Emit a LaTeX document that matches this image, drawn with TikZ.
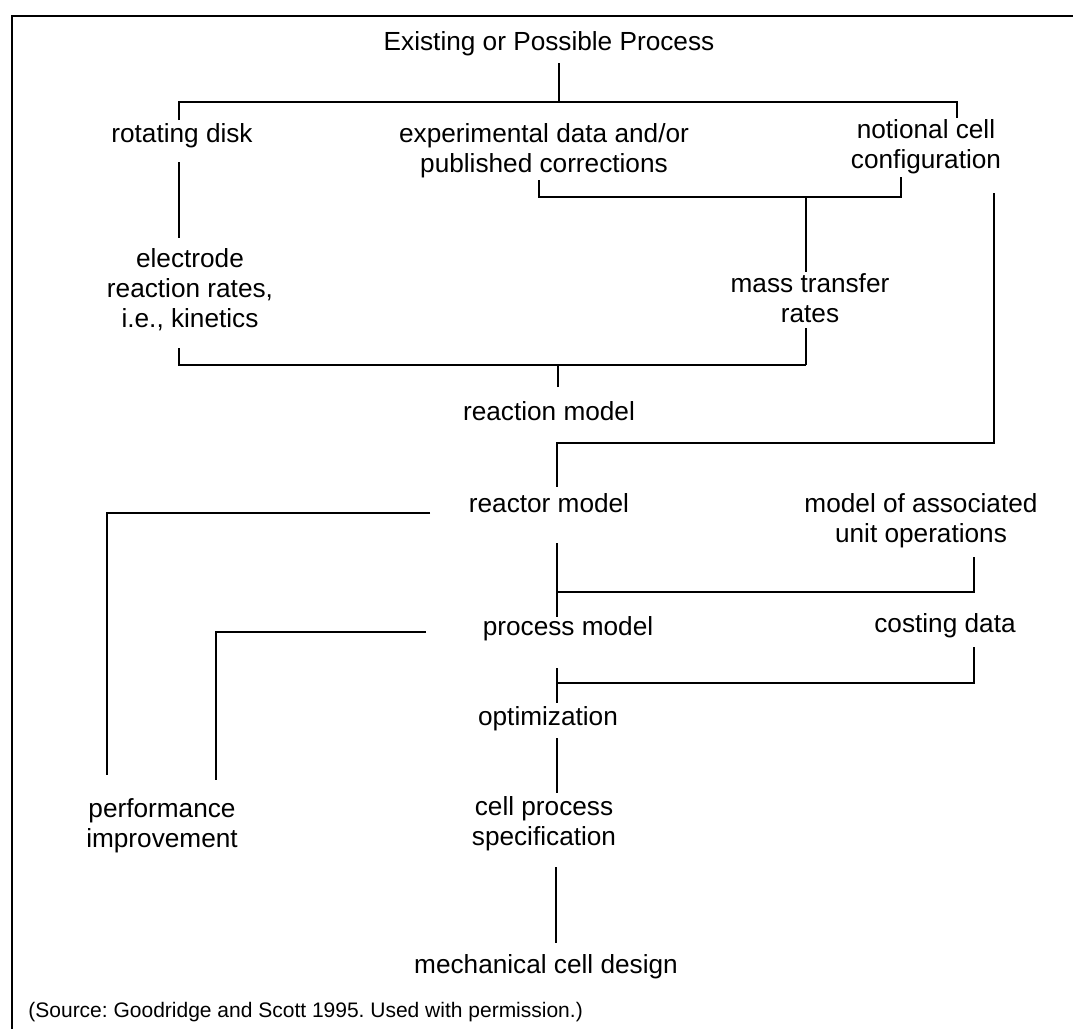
\documentclass[tikz,border=0pt]{standalone}
\usepackage{fontspec}
\setmainfont{Liberation Sans}
\frenchspacing

\begin{document}
\begin{tikzpicture}[x=0.5pt,y=-0.5pt,
    lbl/.style={anchor=base,align=center,inner sep=0pt,
      font=\fontsize{13.1}{15}\selectfont},
    link/.style={line width=1.2pt}]
      \useasboundingbox (0,0) rectangle (1073,1029);
      % frame
      \draw[line width=1.3pt] (1073,16) -- (12,16) -- (12,1029);
      % labels (multi-line ones sit on their last baseline)
      \node[lbl] (top) at (549,50) {Existing or Possible Process};
      \node[lbl] (disk) at (182,142) {rotating disk};
      \node[lbl] (expdata) at (544,172) {experimental data and/or\\published corrections};
      \node[lbl] (notional) at (926,168) {notional cell\\configuration};
      \node[lbl] (kinetics) at (190,327) {electrode\\reaction rates,\\i.e., kinetics};
      \node[lbl] (masstr) at (810,322) {mass transfer\\rates};
      \node[lbl] (reaction) at (549,420) {reaction model};
      \node[lbl] (reactor) at (549,512) {reactor model};
      \node[lbl] (unitops) at (921,542) {model of associated\\unit operations};
      \node[lbl] (procmod) at (568,635) {process model};
      \node[lbl] (costing) at (945,632) {costing data};
      \node[lbl] (optim) at (548,725) {optimization};
      \node[lbl] (spec) at (544,845) {cell process\\specification};
      \node[lbl] (perf) at (162,847) {performance\\improvement};
      \node[lbl] (mech) at (546,973) {mechanical cell design};
      \node[anchor=base west,inner sep=0pt,font=\fontsize{10.5}{12}\selectfont] (src) at (28,1017)
        {(Source: Goodridge and Scott 1995. Used with permission.)};
      % connector ends
      \coordinate (top-s) at (559,63);
      \coordinate (bar1-l) at (179,102);
      \coordinate (bar1-r) at (957,102);
      \coordinate (disk-n) at (179,120);
      \coordinate (notional-n) at (957,118);
      \coordinate (disk-s) at (179,162);
      \coordinate (kinetics-n) at (179,238);
      \coordinate (expdata-s) at (539,180);
      \coordinate (notional-s) at (901,177);
      \coordinate (bar2) at (806,197);
      \coordinate (masstr-n) at (806,272);
      \coordinate (masstr-s) at (806,328);
      \coordinate (kinetics-s) at (179,348);
      \coordinate (bar3) at (806,365);
      \coordinate (reaction-n) at (558,387);
      \coordinate (notional-e) at (994,193);
      \coordinate (bar4) at (994,443);
      \coordinate (reactor-n) at (557,487);
      \coordinate (reactor-s) at (557,543);
      \coordinate (procmod-n) at (557,617);
      \coordinate (unitops-s) at (974,557);
      \coordinate (bar5) at (557,592);
      \coordinate (procmod-s) at (557,668);
      \coordinate (optim-n) at (557,703);
      \coordinate (costing-s) at (974,647);
      \coordinate (bar6) at (557,683);
      \coordinate (optim-s) at (557,738);
      \coordinate (spec-n) at (557,793);
      \coordinate (spec-s) at (556,867);
      \coordinate (mech-n) at (556,943);
      \coordinate (reactor-w) at (430,513);
      \coordinate (perf-n1) at (107,775);
      \coordinate (procmod-w) at (426,632);
      \coordinate (perf-n2) at (216,780);
      % connectors
      \draw[link] (top-s) -- (top-s |- bar1-l);
      \draw[link] (disk-n) -- (bar1-l) -- (bar1-r) -- (notional-n);
      \draw[link] (disk-s) -- (kinetics-n);
      \draw[link] (expdata-s) -- (expdata-s |- bar2) -| (notional-s);
      \draw[link] (bar2) -- (masstr-n);
      \draw[link] (masstr-s) -- (bar3);
      \draw[link] (kinetics-s) |- (bar3);
      \draw[link] (reaction-n) -- (reaction-n |- bar3);
      \draw[link] (notional-e) -- (bar4) -| (reactor-n);
      \draw[link] (reactor-s) -- (procmod-n);
      \draw[link] (bar5) -| (unitops-s);
      \draw[link] (procmod-s) -- (optim-n);
      \draw[link] (bar6) -| (costing-s);
      \draw[link] (optim-s) -- (spec-n);
      \draw[link] (spec-s) -- (mech-n);
      \draw[link] (reactor-w) -| (perf-n1);
      \draw[link] (procmod-w) -| (perf-n2);
    \end{tikzpicture}
\end{document}
